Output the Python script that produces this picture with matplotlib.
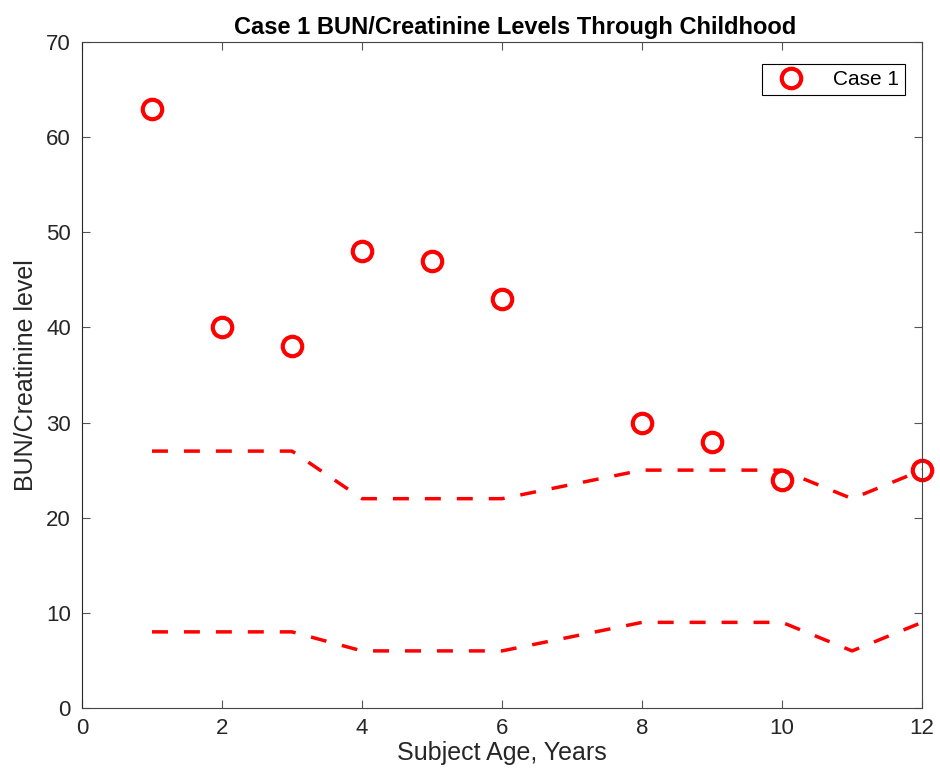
import matplotlib.pyplot as plt

plt.rcParams['font.family'] = ['Liberation Sans', 'DejaVu Sans']

# Case 1 measurements
ages = [1, 2, 3, 4, 5, 6, 8, 9, 10, 12]
bun_cr = [63, 40, 38, 48, 47, 43, 30, 28, 24, 25]

# Reference range (upper / lower bounds)
range_ages = [1, 3, 4, 6, 8, 10, 11, 12]
upper = [27, 27, 22, 22, 25, 25, 22, 25]
lower = [8, 8, 6, 6, 9, 9, 6, 9]

fig = plt.figure(figsize=(9.4, 7.73), dpi=100)
ax = fig.add_axes([0.0872, 0.0841, 0.8938, 0.8616])

ax.plot(ages, bun_cr, 'o', color='red', markerfacecolor='none',
        markersize=14, markeredgewidth=3, label='Case 1', clip_on=False)
ax.plot(range_ages, upper, '--', color='red', linewidth=2.5, dashes=(4.6, 4.6))
ax.plot(range_ages, lower, '--', color='red', linewidth=2.5, dashes=(4.6, 4.6))

ax.set_xlim(0, 12)
ax.set_ylim(0, 70)
ax.set_xticks(range(0, 13, 2))
ax.set_yticks(range(0, 71, 10))
ax.tick_params(direction='in', length=6, top=True, right=True,
               labelsize=16, color='#555555', labelcolor='#262626')
ax.tick_params(axis='y', pad=8)
ax.tick_params(axis='x', pad=7)
for s in ax.spines.values():
    s.set_color('#444444')
    s.set_linewidth(0.8)
ax.spines['left'].set_color('#262626')

ax.set_xlabel('Subject Age, Years', fontsize=18, color='#262626', labelpad=2)
ax.set_ylabel('BUN/Creatinine level', fontsize=18, color='#262626', labelpad=6)
ax.set_title('Case 1 BUN/Creatinine Levels Through Childhood',
             fontsize=17, fontweight='bold', pad=6, x=0.515)

leg = ax.legend(loc='upper right', bbox_to_anchor=(0.98, 0.967),
                fontsize=15, fancybox=False, edgecolor='black',
                framealpha=1, borderaxespad=0, handletextpad=0.9,
                borderpad=0.3, handlelength=2.2)
leg.get_frame().set_linewidth(0.8)

fig.savefig('out.png', dpi=100)
